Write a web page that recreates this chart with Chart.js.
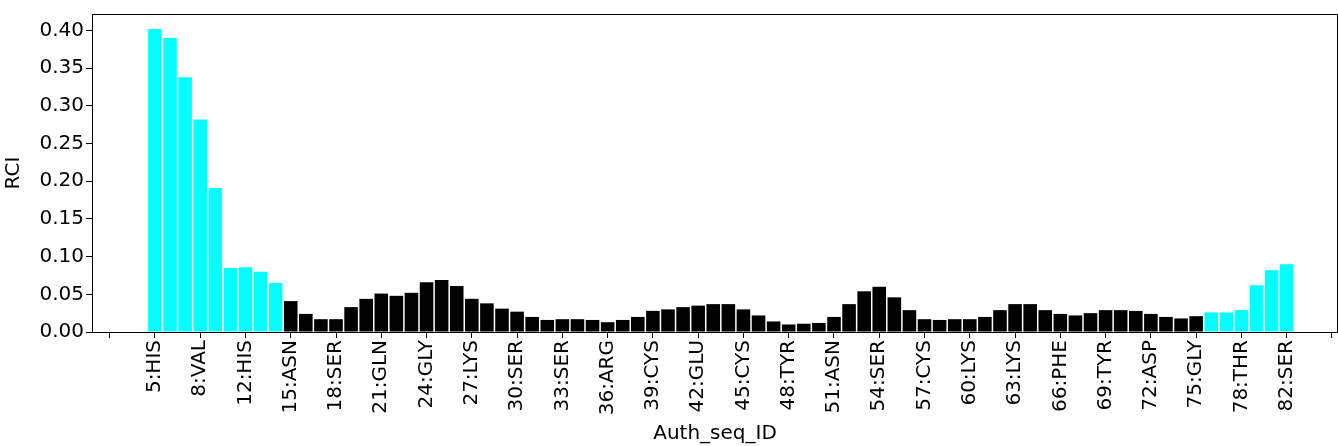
<!DOCTYPE html>
<html><head><meta charset="utf-8">
<script src="https://cdn.jsdelivr.net/npm/chart.js@4/dist/chart.umd.min.js"></script>
<style>html,body{margin:0;padding:0;background:#fff}#w{width:1338px;height:446px}</style>
</head><body><div id="w"><canvas id="c"></canvas></div>
<script>
const rciValues=[0.402,0.390,0.338,0.282,0.191,0.085,0.086,0.080,0.065,0.041,0.024,0.017,0.017,0.033,0.044,0.051,0.048,0.052,0.066,0.069,0.061,0.044,0.038,0.031,0.027,0.020,0.016,0.017,0.017,0.016,0.013,0.016,0.020,0.028,0.030,0.033,0.035,0.037,0.037,0.030,0.022,0.014,0.010,0.011,0.012,0.020,0.037,0.054,0.060,0.046,0.029,0.017,0.016,0.017,0.017,0.020,0.029,0.037,0.037,0.029,0.024,0.022,0.025,0.029,0.029,0.028,0.024,0.020,0.018,0.021,0.026,0.026,0.029,0.062,0.082,0.090];
const cyanIdx=[0,1,2,3,4,5,6,7,8,70,71,72,73,74,75];
const tickLabels=['5:HIS','8:VAL','12:HIS','15:ASN','18:SER','21:GLN','24:GLY','27:LYS','30:SER','33:SER','36:ARG','39:CYS','42:GLU','45:CYS','48:TYR','51:ASN','54:SER','57:CYS','60:LYS','63:LYS','66:PHE','69:TYR','72:ASP','75:GLY','78:THR','82:SER'];
const yTicks=[0,0.05,0.10,0.15,0.20,0.25,0.30,0.35,0.40];
const pts=rciValues.map((v,i)=>({x:i,y:v}));
const colors=rciValues.map((v,i)=>cyanIdx.includes(i)?'#00ffff':'#000000');
const frame={id:'frame',afterDraw(ch){const a=ch.chartArea,c=ch.ctx;c.save();c.strokeStyle='#000';c.lineWidth=1;c.strokeRect(a.left+0.5,a.top+0.5,a.right-a.left-1,a.bottom-a.top);c.restore();}};
const F={family:'DejaVu Sans',size:20};
new Chart(document.getElementById('c'),{type:'bar',
data:{datasets:[{data:pts,backgroundColor:colors,barPercentage:0.9,categoryPercentage:1}]},
options:{animation:false,responsive:true,maintainAspectRatio:false,
layout:{padding:{left:0,right:0,top:14,bottom:0}},
plugins:{legend:{display:false},tooltip:{enabled:false}},
scales:{
x:{type:'linear',min:-4.17,max:78.4,offset:false,grid:{display:true,offset:false,drawOnChartArea:false,drawTicks:true,tickLength:6,color:'#000'},border:{color:'#000'},
afterBuildTicks(s){const t=[];for(let i=-3;i<=78;i+=3)t.push({value:i});s.ticks=t;},
afterFit(s){s.height=114;s.paddingRight=0;s.paddingLeft=0;},
ticks:{color:'#000',font:F,maxRotation:90,minRotation:90,autoSkip:false,padding:2,callback:(v)=>{const k=v/3;return (k>=0&&k<tickLabels.length)?tickLabels[k]:'';}},
title:{display:true,text:'Auth_seq_ID',color:'#000',font:F,padding:0}},
y:{min:0,max:0.422,afterBuildTicks(s){s.ticks=yTicks.map(v=>({value:v}));},
afterFit(s){s.width=92;},
grid:{display:true,drawOnChartArea:false,drawTicks:true,tickLength:6,color:'#000'},border:{color:'#000'},
ticks:{color:'#000',font:F,padding:2,callback:v=>v.toFixed(2)},
title:{display:true,text:'RCI',color:'#000',font:F,padding:2}}}},
plugins:[frame]});
</script></body></html>
